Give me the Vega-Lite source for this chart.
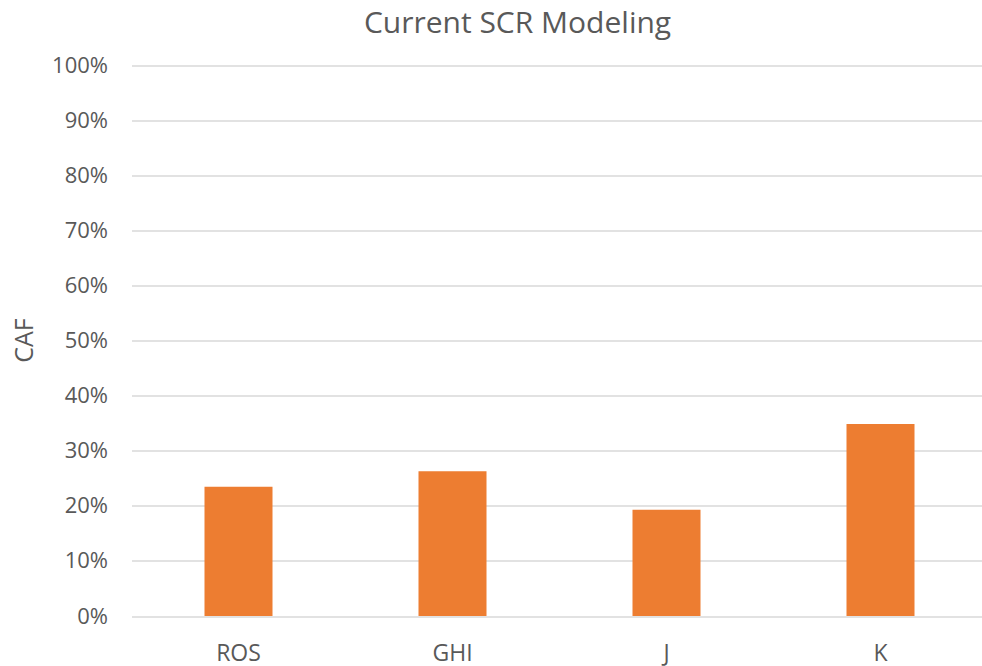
{
  "$schema": "https://vega.github.io/schema/vega-lite/v6.json",
  "autosize": {"type": "none"},
  "width": 856,
  "height": 550.5,
  "padding": {"left": 131.5, "top": 65.5, "right": 0, "bottom": 50},
  "background": "white",
  "config": {
    "font": "Open Sans",
    "view": {"stroke": null},
    "axis": {"labelColor": "#595959", "titleColor": "#595959", "domain": false, "ticks": false, "gridColor": "#D9D9D9", "gridWidth": 1.5, "labelOverlap": false}
  },
  "title": {
    "text": "Current SCR Modeling",
    "fontSize": 30,
    "fontWeight": "normal",
    "color": "#595959",
    "anchor": "middle",
    "frame": "group",
    "baseline": "alphabetic",
    "offset": -8.5,
    "dx": -42
  },
  "data": {
    "values": [
      {"category": "ROS", "CAF": 0.235},
      {"category": "GHI", "CAF": 0.263},
      {"category": "J", "CAF": 0.193},
      {"category": "K", "CAF": 0.349}
    ]
  },
  "mark": {"type": "bar", "color": "#ED7D31", "size": 68},
  "encoding": {
    "x": {
      "field": "category",
      "type": "nominal",
      "sort": null,
      "scale": {"paddingInner": 0, "paddingOuter": 0},
      "axis": {"title": null, "labelAngle": 0, "labelFontSize": 23, "labelPadding": 26, "grid": false}
    },
    "y": {
      "field": "CAF",
      "type": "quantitative",
      "scale": {"domain": [0, 1]},
      "axis": {
        "title": "CAF",
        "format": ".0%",
        "values": [0, 0.1, 0.2, 0.3, 0.4, 0.5, 0.6, 0.7, 0.8, 0.9, 1],
        "labelFontSize": 22,
        "labelPadding": 24,
        "titleFontSize": 25,
        "titleFontWeight": "normal",
        "titleX": -107.5,
        "titleY": 274.5,
        "titleAngle": -90,
        "titleAlign": "center",
        "titleBaseline": "middle"
      }
    }
  }
}
